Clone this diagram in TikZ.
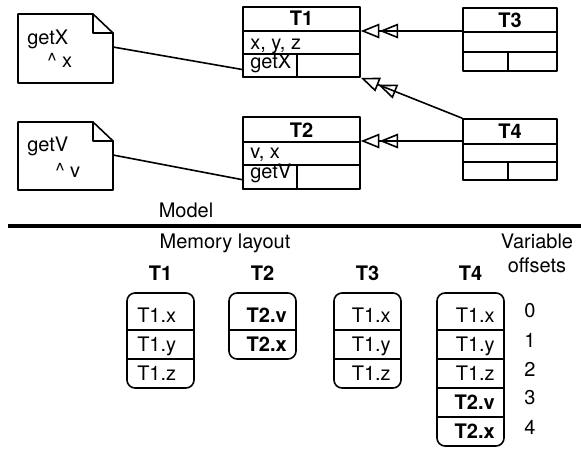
\documentclass[tikz,border=0pt]{standalone}
\usepackage{fontspec}
\setmainfont{TeX Gyre Heros}
\usetikzlibrary{arrows.meta,fit}
\tikzset{
  umlbox/.style={draw, line width=1.2pt, inner sep=0pt},
  inherit/.style={line width=1.2pt, -{Triangle[open,length=14pt,width=11pt]Triangle[open,length=14pt,width=11pt]}},
  txt/.style={inner sep=0pt},
}
\begin{document}
\begin{tikzpicture}[x=0.75pt, y=-0.75pt, font=\fontsize{15}{18}\selectfont, line join=round, line cap=round]
	\useasboundingbox (0,0) rectangle (581,450);
	% notes
	\draw[line width=1.2pt] (18,14) -- (93,14) -- (113,33) -- (113,83) -- (18,83) -- cycle;
	\draw[line width=1.2pt] (93,14) -- (93,33) -- (113,33);
	\draw[line width=1.2pt] (18,122) -- (93,122) -- (113,141) -- (113,190) -- (18,190) -- cycle;
	\draw[line width=1.2pt] (93,122) -- (93,141) -- (113,141);
	\coordinate (noteX) at (113,47);
	\coordinate (noteV) at (113,155);
	\node[txt, anchor=base west] (nX1) at (27,44) {getX};
	\node[txt, anchor=base west] (nX2) at (47,67) {\textasciicircum{} x};
	\node[txt, anchor=base west] (nV1) at (27,151) {getV};
	\node[txt, anchor=base west] (nV2) at (55,177) {\textasciicircum{} v};
	% classes
	\node[umlbox, fit={(243,7)(360,77)}] (T1) {};
	\node[umlbox, fit={(243,117)(360,189)}] (T2) {};
	\node[umlbox, fit={(463,8)(557,71)}] (T3) {};
	\node[umlbox, fit={(463,119)(557,180)}] (T4) {};
	\node[umlbox, fit={(243,54)(297,77)}] (cellX) {};
	\node[umlbox, fit={(243,165)(297,189)}] (cellV) {};
	\draw[line width=1.2pt] (243,31) -- (360,31) (243,54) -- (360,54);
	\draw[line width=1.2pt] (243,142) -- (360,142) (243,165) -- (360,165);
	\draw[line width=1.2pt] (463,32) -- (557,32) (463,52) -- (557,52) (508,52) -- (508,71);
	\draw[line width=1.2pt] (463,144) -- (557,144) (463,162) -- (557,162) (508,162) -- (508,180);
	\node[txt, anchor=base] (T1n) at (301.5,25) {\textbf{T1}};
	\node[txt, anchor=base] (T2n) at (301.5,137) {\textbf{T2}};
	\node[txt, anchor=base] (T3n) at (510,27) {\textbf{T3}};
	\node[txt, anchor=base] (T4n) at (510,138) {\textbf{T4}};
	\node[txt, anchor=base west] (T1a) at (250,49) {x, y, z};
	\node[txt, anchor=base west] (T2a) at (250,158) {v, x};
	\node[txt, anchor=base west] (getX) at (250,68) {getX};
	\node[txt, anchor=base west] (getV) at (250,178) {getV};
	\draw[line width=1.2pt] (noteX) -- ([yshift=-3pt]cellX.west);
	\draw[line width=1.2pt] (noteV) -- ([yshift=-2pt]cellV.west);
	\draw[inherit] (T3.west |- 0,31) -- (T1.east |- 0,31);
	\draw[inherit] (T4.north west) -- (T1.south east);
	\draw[inherit] (T4.west |- 0,141) -- (T2.east |- 0,141);
	% model / memory layout
	\draw[line width=2.4pt, line cap=butt] (8,226) -- (581,226);
	\node[txt, anchor=base] (model) at (186,217) {Model};
	\node[txt, anchor=base] (memory) at (225,248) {Memory layout};
	\node[txt, anchor=base] (var) at (537,248) {Variable};
	\node[txt, anchor=base] (offs) at (537,272) {offsets};
	\foreach \k in {0,...,4}
		\node[txt] (off\k) at (530,311+29*\k) {\k};
	\foreach \nm/\xl/\anc/\xt/\n/\rows in {T1/127/west/137/3/{T1.x,T1.y,T1.z},
			T2/229/east/287/2/{\textbf{T2.v},\textbf{T2.x}},
			T3/334/east/391/3/{T1.x,T1.y,T1.z},
			T4/437/east/495/5/{T1.x,T1.y,T1.z,\textbf{T2.v},\textbf{T2.x}}}{
		\node[txt, anchor=base] (lbl\nm) at (\xl+33.5,280) {\textbf{\nm}};
		\draw[line width=1.2pt, rounded corners=6pt] (\xl,293) rectangle (\xl+67,301+29*\n);
		\foreach \r [count=\i] in \rows {
			\node[txt, anchor=base \anc] (\nm-\i) at (\xt,293+29*\i) {\r};
			\ifnum\i>1 \draw[line width=1.2pt] (\xl,272+29*\i) -- (\xl+67,272+29*\i);\fi
		}
	}
\end{tikzpicture}
\end{document}
